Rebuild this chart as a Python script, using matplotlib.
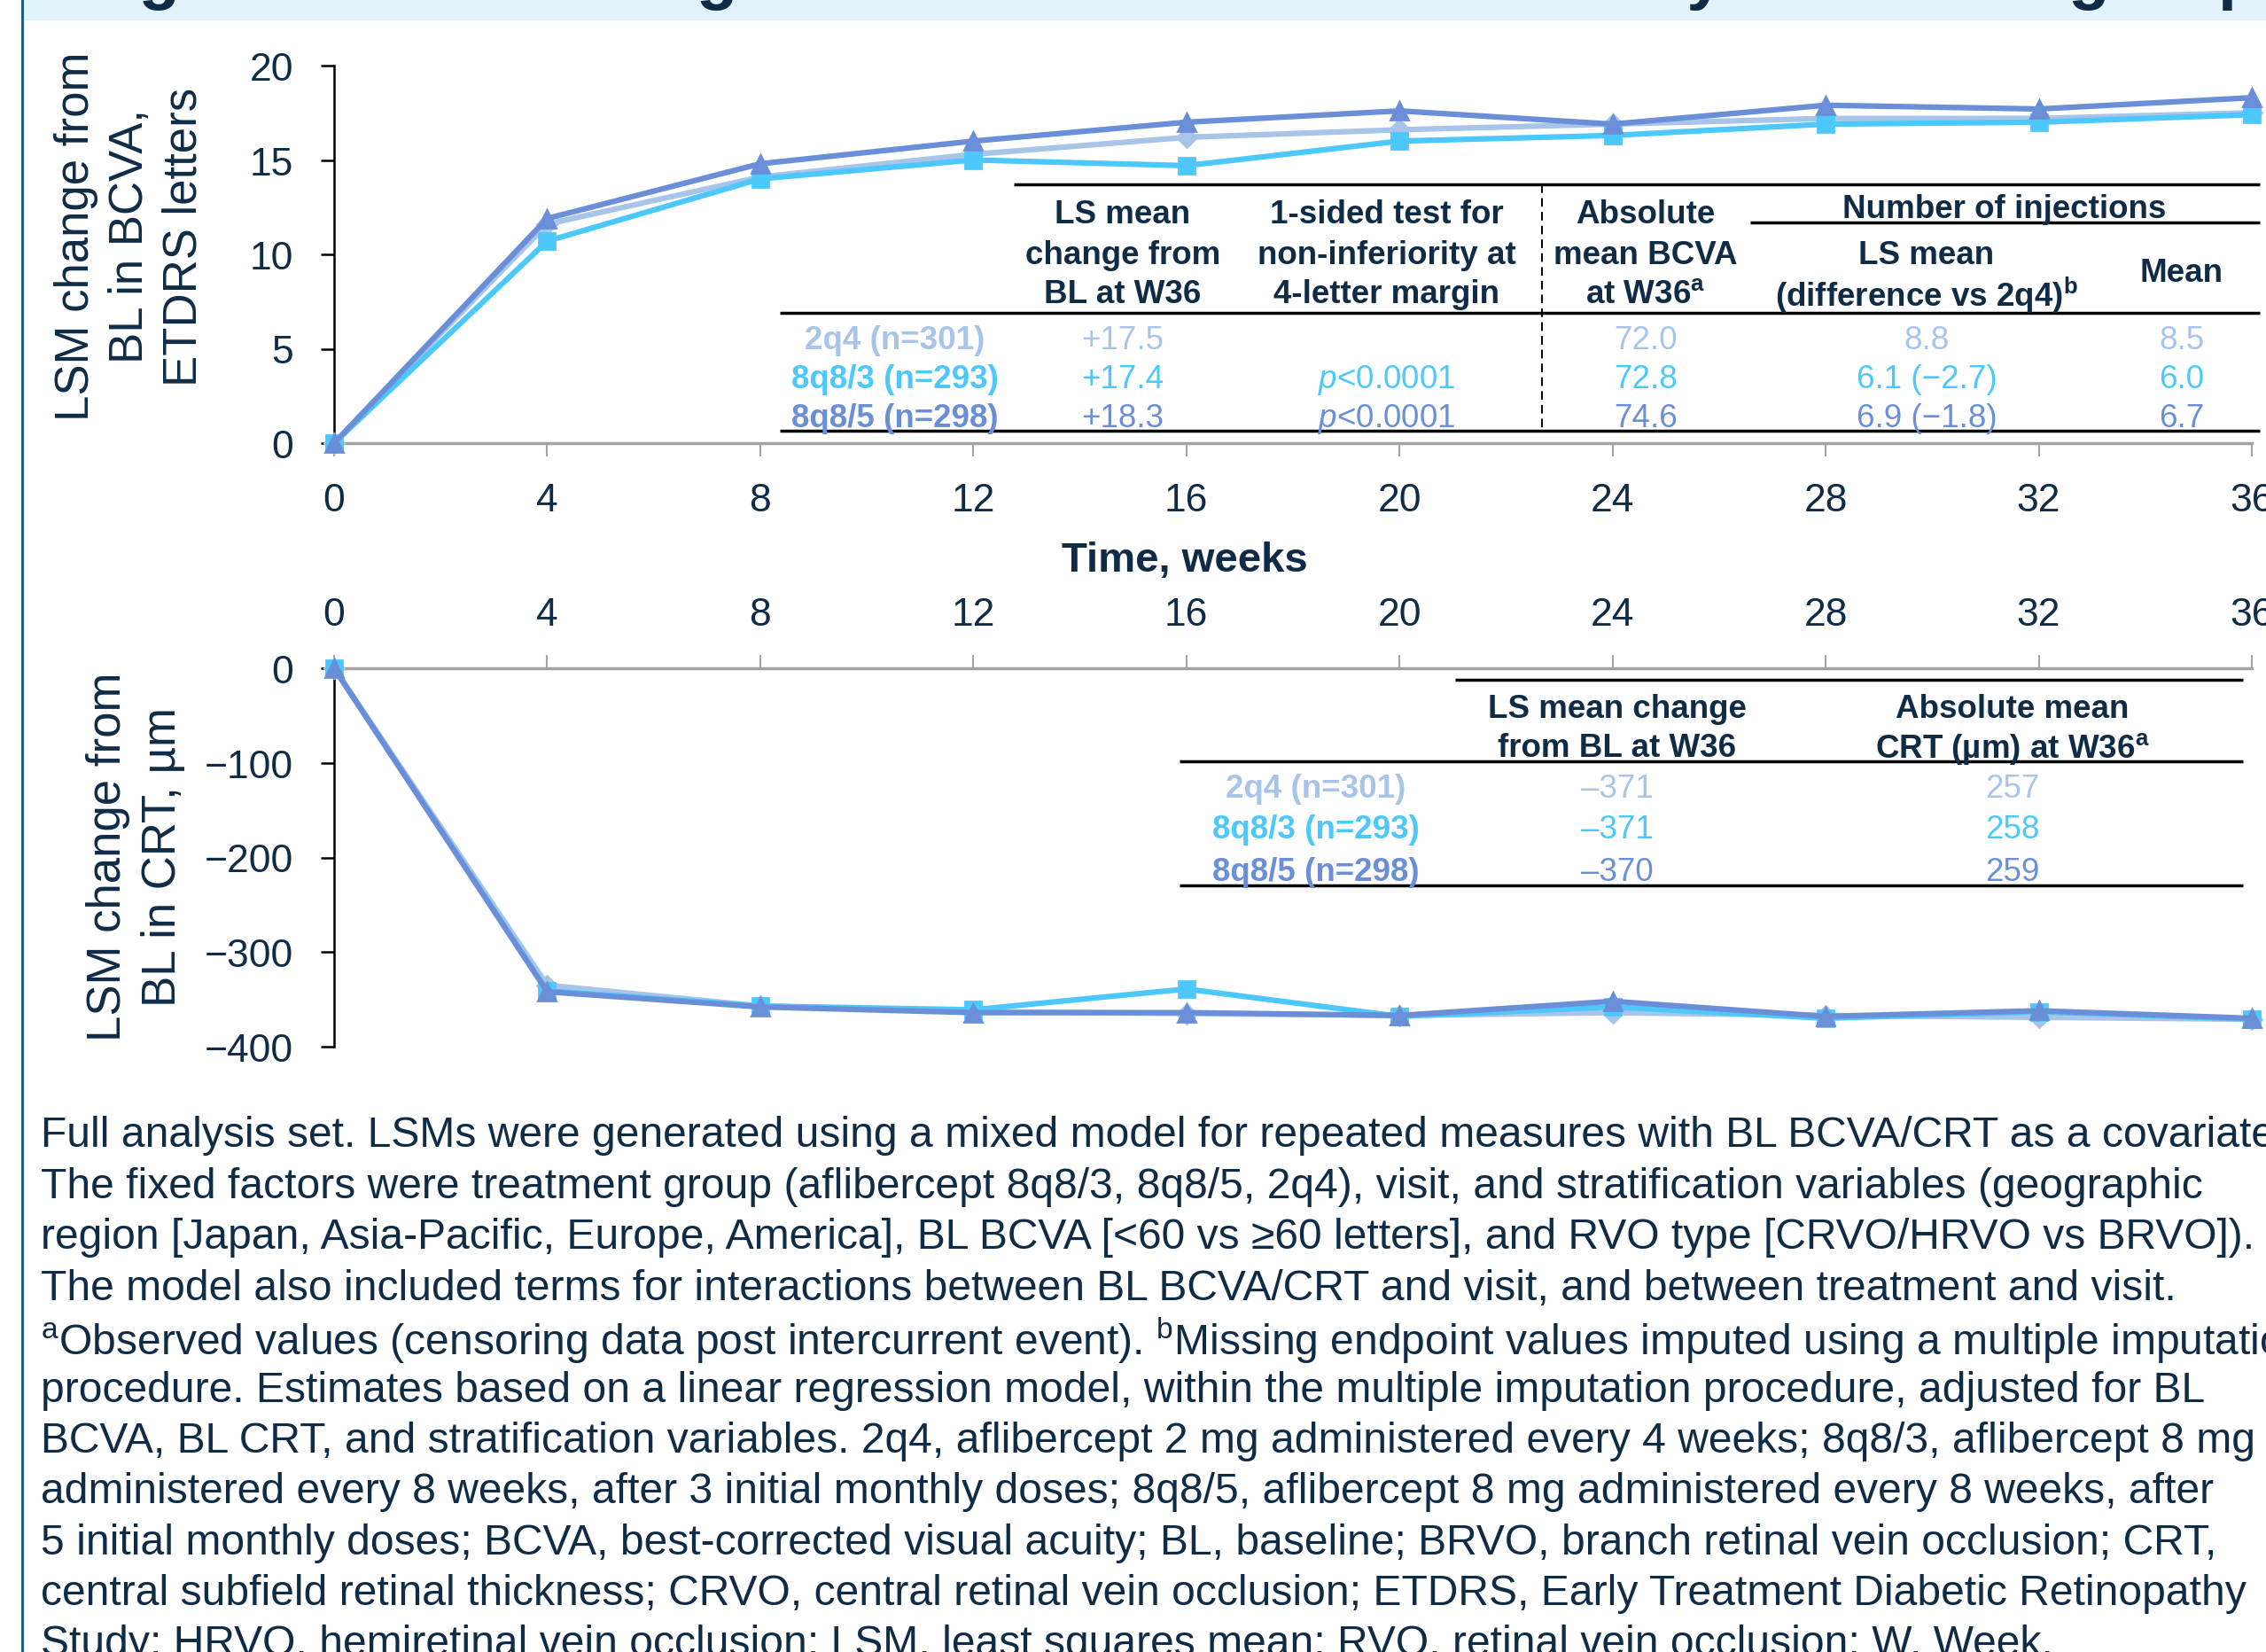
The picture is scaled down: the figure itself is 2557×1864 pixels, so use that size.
import matplotlib
matplotlib.use("Agg")
import matplotlib.pyplot as plt
from matplotlib.patches import Rectangle

plt.rcParams['font.family'] = ['Liberation Sans', 'DejaVu Sans']
plt.rcParams['mathtext.fontset'] = 'custom'
plt.rcParams['mathtext.rm'] = 'Liberation Sans'
plt.rcParams['mathtext.it'] = 'Liberation Sans:italic'
plt.rcParams['mathtext.bf'] = 'Liberation Sans:bold'

# ── Data ──
weeks = [0, 4, 8, 12, 16, 20, 24, 28, 32, 36]
bcva_2q4 = [0, 11.6, 14.1, 15.3, 16.2, 16.6, 16.9, 17.2, 17.2, 17.5]
bcva_8q8_3 = [0, 10.7, 14.0, 15.0, 14.7, 16.0, 16.3, 16.9, 17.0, 17.4]
bcva_8q8_5 = [0, 11.9, 14.8, 16.0, 17.0, 17.6, 16.9, 17.9, 17.7, 18.3]
crt_2q4 = [0, -335, -357, -363, -365, -367, -364, -367, -369, -371]
crt_8q8_3 = [0, -341, -357, -361, -339, -368, -358, -370, -363, -371]
crt_8q8_5 = [0, -342, -358, -364, -364, -367, -352, -368, -362, -370]

groups = ['2q4 (n=301)', '8q8/3 (n=293)', '8q8/5 (n=298)']
bcva_ls_change = ['+17.5', '+17.4', '+18.3']
bcva_pvalue = ['', r'$\mathit{p}$<0.0001', r'$\mathit{p}$<0.0001']
bcva_abs = ['72.0', '72.8', '74.6']
inj_ls_mean = ['8.8', '6.1 (\u22122.7)', '6.9 (\u22121.8)']
inj_mean = ['8.5', '6.0', '6.7']
crt_ls_change = ['\u2013371', '\u2013371', '\u2013370']
crt_abs = ['257', '258', '259']

footnote = [
    "Full analysis set. LSMs were generated using a mixed model for repeated measures with BL BCVA/CRT as a covariate.",
    "The fixed factors were treatment group (aflibercept 8q8/3, 8q8/5, 2q4), visit, and stratification variables (geographic",
    "region [Japan, Asia-Pacific, Europe, America], BL BCVA [<60 vs \u226560 letters], and RVO type [CRVO/HRVO vs BRVO]).",
    "The model also included terms for interactions between BL BCVA/CRT and visit, and between treatment and visit.",
    r"$^{\mathregular{a}}$Observed values (censoring data post intercurrent event). $^{\mathregular{b}}$Missing endpoint values imputed using a multiple imputation",
    "procedure. Estimates based on a linear regression model, within the multiple imputation procedure, adjusted for BL",
    "BCVA, BL CRT, and stratification variables. 2q4, aflibercept 2 mg administered every 4 weeks; 8q8/3, aflibercept 8 mg",
    "administered every 8 weeks, after 3 initial monthly doses; 8q8/5, aflibercept 8 mg administered every 8 weeks, after",
    "5 initial monthly doses; BCVA, best-corrected visual acuity; BL, baseline; BRVO, branch retinal vein occlusion; CRT,",
    "central subfield retinal thickness; CRVO, central retinal vein occlusion; ETDRS, Early Treatment Diabetic Retinopathy",
    "Study; HRVO, hemiretinal vein occlusion; LSM, least squares mean; RVO, retinal vein occlusion; W, Week.",
]

# ── Styles ──
navy = '#0f2b46'
c_2q4 = '#a8c4e8'
c_83 = '#4dc8fc'
c_85 = '#6a8fd8'
colors = [c_2q4, c_83, c_85]
markers = ['D', 's', '^']
msizes = [11, 13, 15]
gray = '#a3a3a3'

W, H = 2557, 1865
fig = plt.figure(figsize=(W / 100, H / 100), dpi=100)


def frac(x0, y0, x1, y1):
    # pixel box (top-left origin) -> figure fraction rect
    return [x0 / W, 1 - y1 / H, (x1 - x0) / W, (y1 - y0) / H]


# overlay in pixel coordinates for frame, tables and notes
ov = fig.add_axes([0, 0, 1, 1], zorder=5)
ov.set_xlim(0, W)
ov.set_ylim(H, 0)
ov.axis('off')
ov.patch.set_alpha(0)

ov.add_patch(Rectangle((27, 0), W - 27, 24, facecolor='#e1f2fa', edgecolor='none'))
ov.plot([25, 25], [0, H], color='#1d5f7d', lw=2.2, solid_capstyle='butt')
ov.text(89, -4, 'Figure 2. LSM change from BL in BCVA and CRT by treatment group',
        fontsize=54.7, fontweight='bold', color=navy, va='baseline', ha='left', clip_on=False)

# ── Top panel: BCVA ──
ax1 = fig.add_axes(frac(377, 75, 2541, 501))
series_top = [bcva_2q4, bcva_8q8_3, bcva_8q8_5]
for i, ys in enumerate(series_top):
    ax1.plot(weeks, ys, color=colors[i], lw=4.5, marker=markers[i], ms=msizes[i],
             mec=colors[i], mew=2, solid_joinstyle='round', clip_on=False, zorder=3 + i)
ax1.set_xlim(0, 36)
ax1.set_ylim(0, 20)
ax1.set_xticks(range(0, 37, 4))
ax1.set_yticks([0, 5, 10, 15, 20])
ax1.spines[['top', 'right']].set_visible(False)
ax1.spines['bottom'].set_color(gray)
ax1.spines['bottom'].set_linewidth(2.5)
ax1.spines['left'].set_linewidth(1.8)
ax1.tick_params(axis='x', length=11, width=1.5, color=gray, pad=21, labelsize=32, labelcolor=navy)
ax1.tick_params(axis='y', length=11, width=1.8, color='black', pad=22, labelsize=32, labelcolor=navy)
ax1.patch.set_alpha(0)

# ── Bottom panel: CRT ──
ax2 = fig.add_axes(frac(377, 755, 2541, 1182))
series_bot = [crt_2q4, crt_8q8_3, crt_8q8_5]
for i, ys in enumerate(series_bot):
    ax2.plot(weeks, ys, color=colors[i], lw=4.5, marker=markers[i], ms=msizes[i],
             mec=colors[i], mew=2, solid_joinstyle='round', clip_on=False, zorder=3 + i)
ax2.set_xlim(0, 36)
ax2.set_ylim(-400, 0)
ax2.set_xticks(range(0, 37, 4))
ax2.set_yticks([0, -100, -200, -300, -400])
ax2.xaxis.tick_top()
ax2.spines[['bottom', 'right']].set_visible(False)
ax2.spines['top'].set_color(gray)
ax2.spines['top'].set_linewidth(2.5)
ax2.spines['left'].set_linewidth(1.8)
ax2.tick_params(axis='x', length=11, width=1.5, color=gray, pad=17.5, labelsize=32, labelcolor=navy)
ax2.tick_params(axis='y', length=11, width=1.8, color='black', pad=22, labelsize=32, labelcolor=navy)
ax2.patch.set_alpha(0)

# axis titles
fig.text(1337 / W, 1 - 633 / H, 'Time, weeks', fontsize=34, fontweight='bold', color=navy,
         ha='center', va='center')
fig.text(147 / W, 1 - 267 / H, 'LSM change from\nBL in BCVA,\nETDRS letters', fontsize=38,
         color=navy, rotation=90, ha='center', va='center', multialignment='center', linespacing=1.28)
fig.text(153 / W, 1 - 967 / H, 'LSM change from\nBL in CRT, \u00b5m', fontsize=38,
         color=navy, rotation=90, ha='center', va='center', multialignment='center', linespacing=1.3)

# ── BCVA table ──
tfs = 26.5
def hdr(x, y, s):
    ov.text(x, y, s, fontsize=tfs, fontweight='bold', color=navy, ha='center', va='center_baseline')

ov.plot([1144, 2550], [209, 209], color='black', lw=2.5, solid_capstyle='butt')
ov.plot([1975, 2550], [252, 252], color='black', lw=2.5, solid_capstyle='butt')
ov.plot([880, 2550], [354, 354], color='black', lw=2.5, solid_capstyle='butt')
ov.plot([880, 2550], [487, 487], color='black', lw=2.5, solid_capstyle='butt')
ov.plot([1740, 1740], [209, 487], color='black', lw=1.4, ls=(0, (5, 3)))

for s, y in zip(['LS mean', 'change from', 'BL at W36'], [238, 284, 328]):
    hdr(1267, y, s)
for s, y in zip(['1-sided test for', 'non-inferiority at', '4-letter margin'], [238, 284, 328]):
    hdr(1565, y, s)
for s, y in zip(['Absolute', 'mean BCVA', r'at W36$^{\mathbf{a}}$'], [238, 284, 328]):
    hdr(1857, y, s)
hdr(2262, 232, 'Number of injections')
hdr(2174, 284, 'LS mean')
hdr(2174, 328, r'(difference vs 2q4)$^{\mathbf{b}}$')
hdr(2462, 305, 'Mean')

for i, y in enumerate([380, 424, 468]):
    ov.text(1010, y, groups[i], fontsize=tfs, fontweight='bold', color=colors[i], ha='center', va='center_baseline')
    for x, col in [(1267, bcva_ls_change), (1565, bcva_pvalue), (1857, bcva_abs),
                   (2174, inj_ls_mean), (2462, inj_mean)]:
        if col[i]:
            ov.text(x, y, col[i], fontsize=tfs, color=colors[i], ha='center', va='center_baseline')

# ── CRT table ──
ov.plot([1642, 2531], [768, 768], color='black', lw=2.5, solid_capstyle='butt')
ov.plot([1331, 2531], [860, 860], color='black', lw=2.5, solid_capstyle='butt')
ov.plot([1331, 2531], [1000, 1000], color='black', lw=2.5, solid_capstyle='butt')
hdr(1825, 796, 'LS mean change')
hdr(1825, 840, 'from BL at W36')
hdr(2271, 796, 'Absolute mean')
hdr(2271, 840, 'CRT (\u00b5m) at W36$^{\\mathbf{a}}$')
for i, y in enumerate([887, 933, 980]):
    ov.text(1485, y, groups[i], fontsize=tfs, fontweight='bold', color=colors[i], ha='center', va='center_baseline')
    ov.text(1825, y, crt_ls_change[i], fontsize=tfs, color=colors[i], ha='center', va='center_baseline')
    ov.text(2271, y, crt_abs[i], fontsize=tfs, color=colors[i], ha='center', va='center_baseline')

# ── Footnotes ──
for k, line in enumerate(footnote):
    ov.text(46, 1277 + k * 57.4, line, fontsize=34.6, color=navy, ha='left', va='center_baseline')

fig.savefig('out.png', dpi=100)
